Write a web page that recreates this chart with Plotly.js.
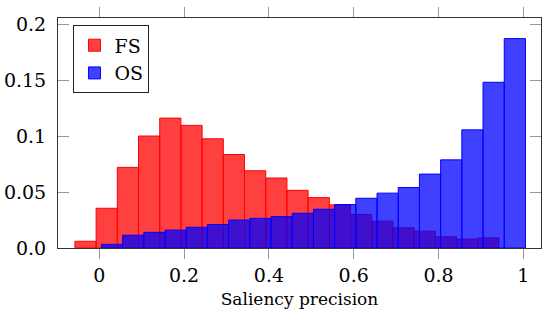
<!DOCTYPE html>
<html>
<head>
<meta charset="utf-8">
<script src="https://cdn.plot.ly/plotly-3.0.1.min.js"></script>
<style>
  html, body { margin: 0; padding: 0; background: #fff; }
  #chart { width: 542px; height: 318px; }
</style>
</head>
<body>
<div id="chart"></div>
<script>
// Bin starts (saliency precision)
const binStart = [0.00, 0.05, 0.10, 0.15, 0.20, 0.25, 0.30, 0.35, 0.40, 0.45,
                  0.50, 0.55, 0.60, 0.65, 0.70, 0.75, 0.80, 0.85, 0.90, 0.95];
// FS frequencies
const fsValues = [0.006, 0.0355, 0.072, 0.100, 0.116, 0.1095, 0.0975, 0.0835, 0.069, 0.0625,
                  0.0515, 0.045, 0.0385, 0.030, 0.024, 0.018, 0.015, 0.010, 0.008, 0.009];
// OS frequencies
const osValues = [0.0033, 0.0114, 0.014, 0.016, 0.0185, 0.021, 0.025, 0.0265, 0.028, 0.031,
                  0.0346, 0.0388, 0.0444, 0.049, 0.054, 0.066, 0.0787, 0.1055, 0.148, 0.187];
const seriesNames = ["FS", "OS"];
const xTickVals = [0, 0.2, 0.4, 0.6, 0.8, 1];
const xTickText = ["0", "0.2", "0.4", "0.6", "0.8", "1"];
const yTickVals = [0, 0.05, 0.1, 0.15, 0.2];
const yTickText = ["0.0", "0.05", "0.1", "0.15", "0.2"];
const xTitle = "Saliency precision";

const FONT = "DejaVu Serif";

const traces = [
  {
    type: "bar",
    name: seriesNames[0],
    x: binStart,
    y: fsValues,
    offset: -0.0575,
    width: 0.05,
    marker: { color: "rgba(255,0,0,0.75)", line: { color: "rgb(255,0,0)", width: 1 } },
    hoverinfo: "x+y"
  },
  {
    type: "bar",
    name: seriesNames[1],
    x: binStart,
    y: osValues,
    offset: 0.005,
    width: 0.05,
    marker: { color: "rgba(0,0,255,0.75)", line: { color: "rgb(0,0,255)", width: 1 } },
    hoverinfo: "x+y"
  }
];

const layout = {
  width: 542,
  height: 318,
  margin: { l: 58, r: 1, t: 18, b: 70, pad: 0 },
  paper_bgcolor: "#fff",
  plot_bgcolor: "#fff",
  barmode: "overlay",
  showlegend: true,
  font: { family: FONT, size: 19, color: "#000" },
  xaxis: {
    range: [-0.0974, 1.0417],
    tickvals: xTickVals,
    ticktext: xTickText,
    ticks: "outside",
    ticklen: 10,
    tickwidth: 1,
    tickcolor: "#999",
    showline: true,
    linecolor: "#333",
    linewidth: 1,
    mirror: "allticks",
    showgrid: false,
    zeroline: false,
    tickfont: { family: FONT, size: 19, color: "#000" },
    title: { text: xTitle, font: { family: FONT, size: 17, color: "#000" }, standoff: 8 }
  },
  yaxis: {
    range: [0, 0.2054],
    tickvals: yTickVals,
    ticktext: yTickText,
    ticks: "inside",
    ticklen: 11,
    tickwidth: 1,
    tickcolor: "#999",
    showline: true,
    linecolor: "#333",
    linewidth: 1,
    mirror: "allticks",
    showgrid: false,
    zeroline: false,
    ticklabelstandoff: 7,
    tickfont: { family: FONT, size: 19, color: "#000" }
  },
  legend: {
    x: 0.032,
    y: 0.968,
    xanchor: "left",
    yanchor: "top",
    bgcolor: "#fff",
    bordercolor: "#222",
    borderwidth: 1,
    font: { family: FONT, size: 19, color: "#000" },
    tracegroupgap: 0,
    itemwidth: 30
  }
};

Plotly.newPlot("chart", traces, layout, { displayModeBar: false, staticPlot: true });
</script>
</body>
</html>
